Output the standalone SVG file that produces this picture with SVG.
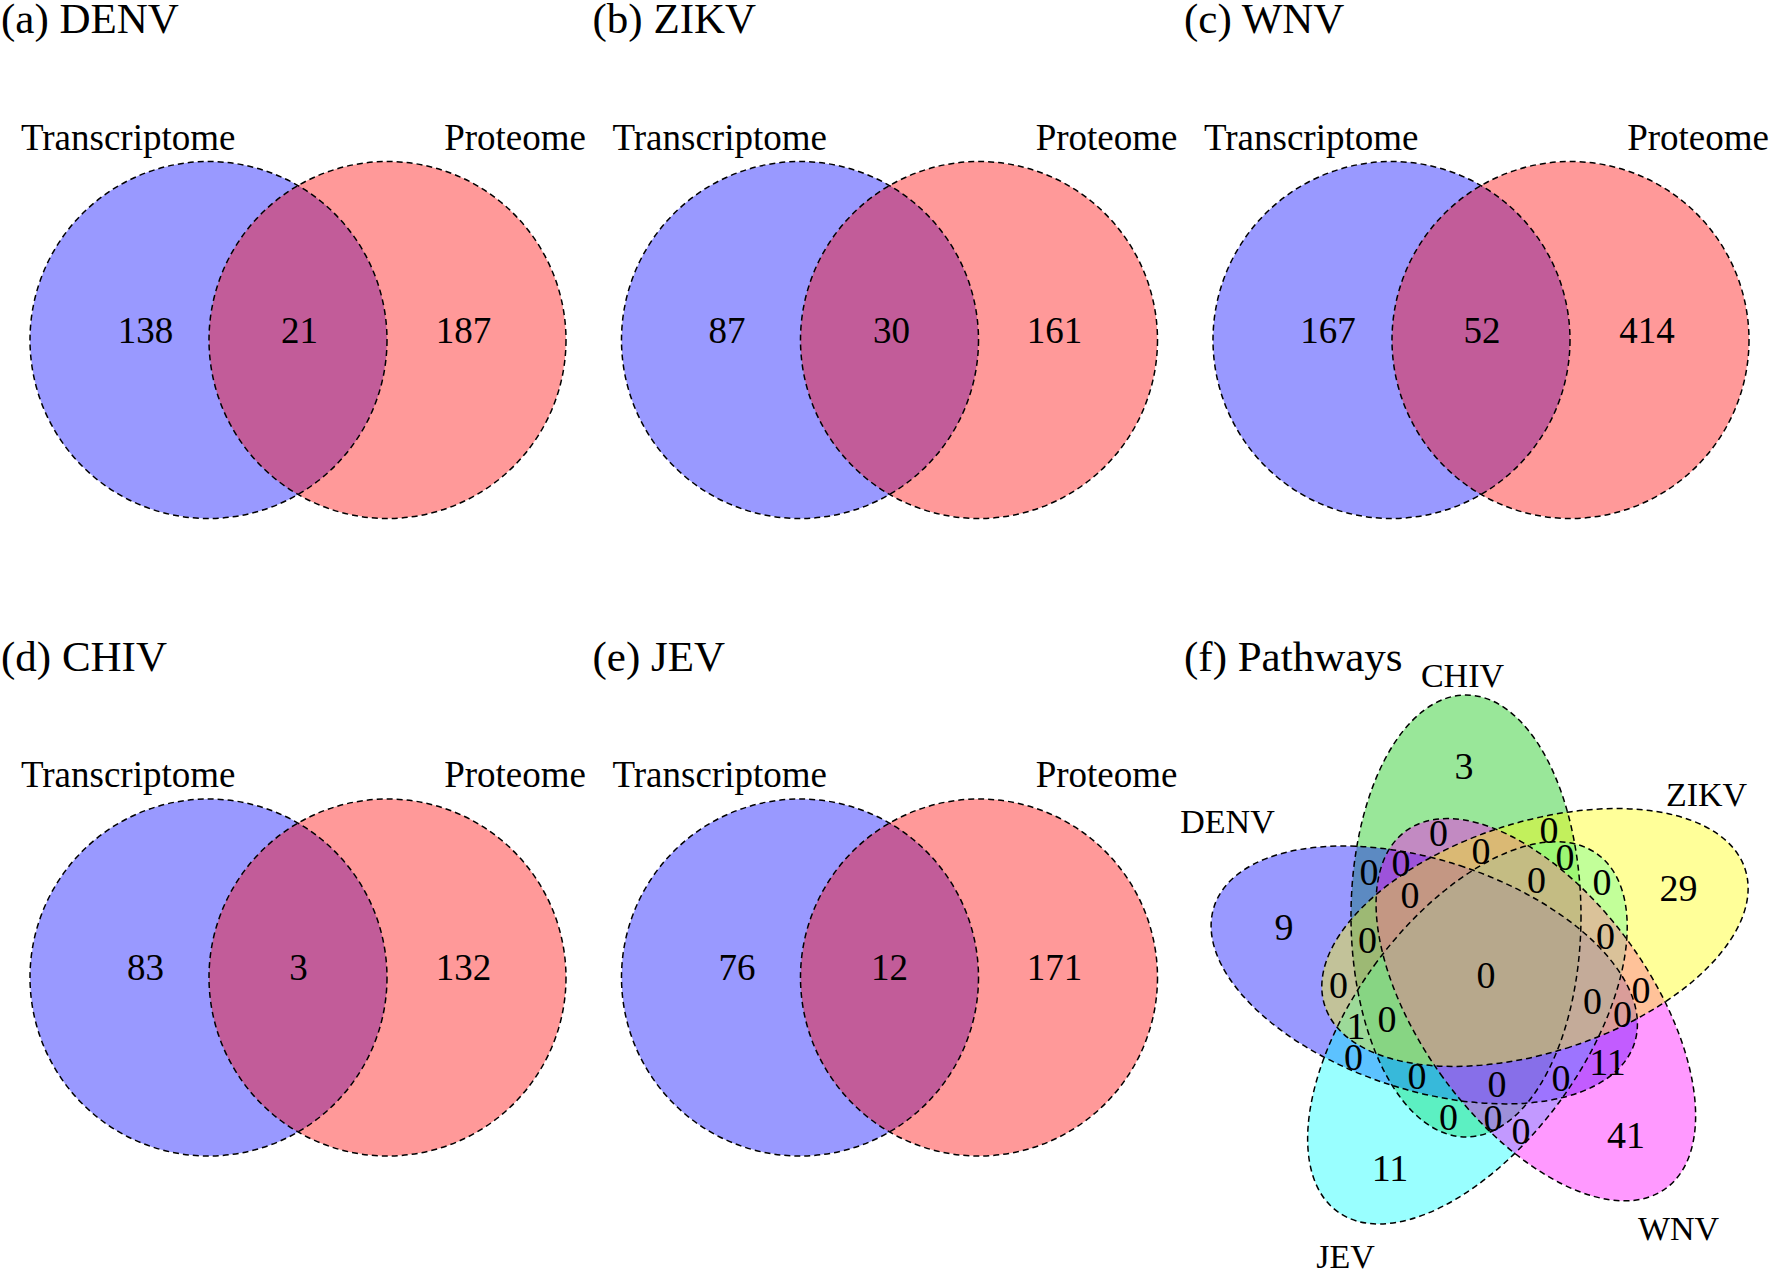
<svg xmlns="http://www.w3.org/2000/svg" width="1770" height="1272" viewBox="0 0 1770 1272">
<style>
text{font-family:"Liberation Serif","Times New Roman",serif;fill:#000}
.t{font-size:43px}
.l{font-size:37px}
.e{text-anchor:end}
.n{font-size:37px;text-anchor:middle}
.f{font-size:38px;text-anchor:middle}
.c{font-size:34px;text-anchor:middle}
.o{fill:none;stroke:#000;stroke-width:1.5;stroke-dasharray:6 4}
.b{fill:#0000ff;fill-opacity:0.4}
.r{fill:#ff0000;fill-opacity:0.4}
.g5{fill:#00c400;fill-opacity:0.4}
.b5{fill:#0000ff;fill-opacity:0.4}
.c5{fill:#00ffff;fill-opacity:0.4}
.m5{fill:#ff00ff;fill-opacity:0.4}
.y5{fill:#ffff00;fill-opacity:0.4}
</style>
<defs>
<circle id="cl" cx="208.5" cy="340" r="178.5"/>
<circle id="cr" cx="387.5" cy="340" r="178.5"/>
<ellipse id="el" cx="1466" cy="916" rx="115" ry="221"/>
</defs>

<g id="panel-a">
<use href="#cl" class="b"/><use href="#cr" class="r"/>
<use href="#cl" class="o"/><use href="#cr" class="o"/>
<text class="t" x="1" y="33">(a) DENV</text>
<text class="l" x="21" y="149.5">Transcriptome</text>
<text class="l e" x="586" y="149.5">Proteome</text>
<text class="n" x="145.5" y="342.5">138</text>
<text class="n" x="299.5" y="342.5">21</text>
<text class="n" x="463.5" y="342.5">187</text>
</g>

<g id="panel-b" transform="translate(591.5,0)">
<use href="#cl" class="b"/><use href="#cr" class="r"/>
<use href="#cl" class="o"/><use href="#cr" class="o"/>
<text class="t" x="1" y="33">(b) ZIKV</text>
<text class="l" x="21" y="149.5">Transcriptome</text>
<text class="l e" x="586" y="149.5">Proteome</text>
<text class="n" x="135.5" y="342.5">87</text>
<text class="n" x="300" y="342.5">30</text>
<text class="n" x="463" y="342.5">161</text>
</g>

<g id="panel-c" transform="translate(1183,0)">
<use href="#cl" class="b"/><use href="#cr" class="r"/>
<use href="#cl" class="o"/><use href="#cr" class="o"/>
<text class="t" x="1" y="33">(c) WNV</text>
<text class="l" x="21" y="149.5">Transcriptome</text>
<text class="l e" x="586" y="149.5">Proteome</text>
<text class="n" x="145" y="342.5">167</text>
<text class="n" x="299" y="342.5">52</text>
<text class="n" x="464" y="342.5">414</text>
</g>

<g id="panel-d" transform="translate(0,637.5)">
<use href="#cl" class="b"/><use href="#cr" class="r"/>
<use href="#cl" class="o"/><use href="#cr" class="o"/>
<text class="t" x="1" y="33">(d) CHIV</text>
<text class="l" x="21" y="149.5">Transcriptome</text>
<text class="l e" x="586" y="149.5">Proteome</text>
<text class="n" x="145.5" y="342.5">83</text>
<text class="n" x="298.5" y="342.5">3</text>
<text class="n" x="463.5" y="342.5">132</text>
</g>

<g id="panel-e" transform="translate(591.5,637.5)">
<use href="#cl" class="b"/><use href="#cr" class="r"/>
<use href="#cl" class="o"/><use href="#cr" class="o"/>
<text class="t" x="1" y="33">(e) JEV</text>
<text class="l" x="21" y="149.5">Transcriptome</text>
<text class="l e" x="586" y="149.5">Proteome</text>
<text class="n" x="145.5" y="342.5">76</text>
<text class="n" x="298" y="342.5">12</text>
<text class="n" x="463" y="342.5">171</text>
</g>

<g id="panel-f">
<text class="t" x="1184" y="670.5">(f) Pathways</text>
<g id="set-chiv"><use href="#el" class="g5"/></g>
<g id="set-denv"><use href="#el" class="b5" transform="rotate(288 1485.7 974.2)"/></g>
<g id="set-jev"><use href="#el" class="c5" transform="rotate(216 1485.7 974.2)"/></g>
<g id="set-wnv"><use href="#el" class="m5" transform="rotate(144 1485.7 974.2)"/></g>
<g id="set-zikv"><use href="#el" class="y5" transform="rotate(72 1485.7 974.2)"/></g>
<g id="outlines">
<use href="#el" class="o"/>
<use href="#el" class="o" transform="rotate(288 1485.7 974.2)"/>
<use href="#el" class="o" transform="rotate(216 1485.7 974.2)"/>
<use href="#el" class="o" transform="rotate(144 1485.7 974.2)"/>
<use href="#el" class="o" transform="rotate(72 1485.7 974.2)"/>
</g>
<text class="c" x="1462.5" y="686.5">CHIV</text>
<text class="c" x="1227.5" y="832.5">DENV</text>
<text class="c" x="1706.5" y="806">ZIKV</text>
<text class="c" x="1678.5" y="1240">WNV</text>
<text class="c" x="1345.5" y="1268">JEV</text>
<g id="counts">
<text class="f" x="1464" y="779">3</text>
<text class="f" x="1438.5" y="846">0</text>
<text class="f" x="1549" y="842.5">0</text>
<text class="f" x="1481" y="864">0</text>
<text class="f" x="1565" y="869.5">0</text>
<text class="f" x="1369" y="885">0</text>
<text class="f" x="1401" y="876">0</text>
<text class="f" x="1536.5" y="892.5">0</text>
<text class="f" x="1602" y="895">0</text>
<text class="f" x="1678.5" y="901">29</text>
<text class="f" x="1410" y="908">0</text>
<text class="f" x="1284" y="940">9</text>
<text class="f" x="1367.5" y="952.5">0</text>
<text class="f" x="1605.5" y="949">0</text>
<text class="f" x="1338.5" y="998">0</text>
<text class="f" x="1486" y="988">0</text>
<text class="f" x="1641" y="1003">0</text>
<text class="f" x="1592.5" y="1014">0</text>
<text class="f" x="1356" y="1038.5">1</text>
<text class="f" x="1387" y="1031.5">0</text>
<text class="f" x="1622.5" y="1027">0</text>
<text class="f" x="1353.5" y="1070">0</text>
<text class="f" x="1607.5" y="1074.5">11</text>
<text class="f" x="1417" y="1089">0</text>
<text class="f" x="1561" y="1091">0</text>
<text class="f" x="1497" y="1097">0</text>
<text class="f" x="1448.5" y="1129.5">0</text>
<text class="f" x="1493" y="1131">0</text>
<text class="f" x="1521" y="1143.5">0</text>
<text class="f" x="1626" y="1147.5">41</text>
<text class="f" x="1390" y="1181">11</text>
</g>
</g>
</svg>
